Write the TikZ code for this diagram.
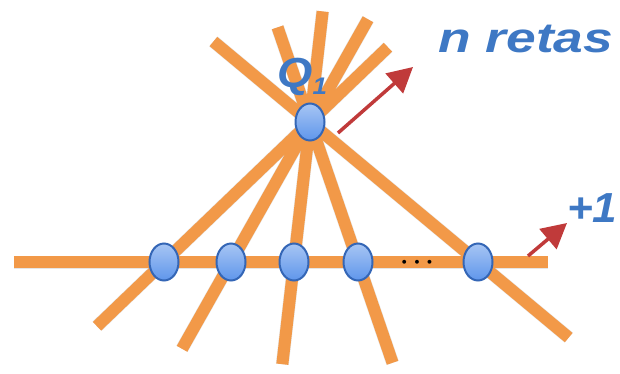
\documentclass[tikz,border=0pt]{standalone}
\usepackage{fontspec}
\setmainfont{Liberation Sans}
\usetikzlibrary{calc, arrows.meta, shapes.geometric, backgrounds}
\definecolor{laranja}{RGB}{242,153,72}
\definecolor{azulponto}{RGB}{95,150,235}
\definecolor{azulborda}{RGB}{52,102,182}
\definecolor{azultexto}{RGB}{62,120,196}
\definecolor{vermelho}{RGB}{192,58,58}

\begin{document}
\begin{tikzpicture}[x=1pt,y=-1pt,
  reta/.style={line width=12pt, laranja},
  sombra/.style={line width=13pt, black, opacity=0.10},
  ponto/.style={ellipse, draw=azulborda, line width=2pt, top color=azulponto!55!white, bottom color=azulponto, minimum width=29pt, minimum height=37pt, inner sep=0pt},
  seta/.style={vermelho, line width=3.5pt, -{Triangle[length=25pt,width=26pt]}},
  rotulo/.style={text=azultexto, font=\fontsize{42}{42}\selectfont\bfseries\itshape, inner sep=0pt}]
\useasboundingbox (0,0) rectangle (620,374);
\clip (0,0) rectangle (620,374);
\node[ponto] (q) at (310,122) {};
\node[ponto] (p1) at (164,262) {};
\node[ponto] (p2) at (231,262) {};
\node[ponto] (p3) at (294,262) {};
\node[ponto] (p4) at (358,262) {};
\node[ponto] (p5) at (478,262) {};
\begin{pgfonlayer}{background}
\foreach \p/\a/\b in {p1/-0.534/1.459, p2/-0.734/1.62, p3/-0.79/1.73, p4/-0.676/1.72, p5/-0.575/1.54}
  \draw[sombra, shift={(3,5)}] ($(q.center)!\a!(\p.center)$) -- ($(q.center)!\b!(\p.center)$);
\draw[sombra, shift={(3,6)}] ($(p1.center)!-0.478!(p5.center)$) -- ($(p1.center)!1.223!(p5.center)$);
\foreach \p/\a/\b in {p1/-0.534/1.459, p2/-0.734/1.62, p3/-0.79/1.73, p4/-0.676/1.72, p5/-0.575/1.54}
  \draw[reta] ($(q.center)!\a!(\p.center)$) -- ($(q.center)!\b!(\p.center)$);
\draw[reta] ($(p1.center)!-0.478!(p5.center)$) -- ($(p1.center)!1.223!(p5.center)$);
\end{pgfonlayer}
\node[anchor=base, font=\fontsize{32}{32}\selectfont\boldmath] (dots) at (417,268) {$\cdots$};
\coordinate (s1) at (338,133);
\coordinate (t1) at (413,67);
\coordinate (s2) at (528,256);
\coordinate (t2) at (567,223);
\draw[seta] (s1) -- (t1);
\draw[seta] (s2) -- (t2);
\node[rotulo, anchor=base west, xscale=1.08] (rq) at (277,88) {Q{\fontsize{24}{24}\selectfont\raisebox{-7pt}{1}}};
\node[rotulo, anchor=base west, xscale=1.27] (nretas) at (438,53) {n retas};
\node[rotulo, anchor=base west, xscale=1.05] (mais) at (567,222) {+1};
\end{tikzpicture}
\end{document}
